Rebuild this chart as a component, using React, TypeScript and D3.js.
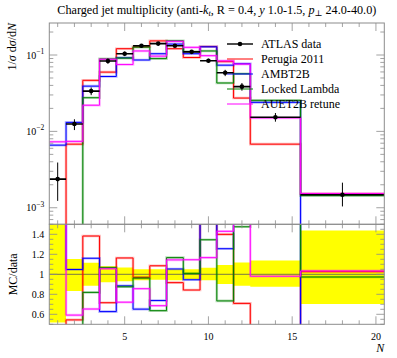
import * as d3 from "d3";

// bin edges in N (last two bins are wide)
const binEdges = [0.5, 1.5, 2.5, 3.5, 4.5, 5.5, 6.5, 7.5, 8.5, 9.5, 10.5, 11.5, 12.5, 15.5, 20.5];

const atlasData = [0.00237, 0.0125, 0.0337, 0.0834, 0.104, 0.132, 0.141, 0.132, 0.11, 0.084, 0.0586, 0.0385, 0.0153, 0.00148];
const atlasErrUp = [0.00154, 0.0019, 0.0039, 0.0067, 0.007, 0.0066, 0.0071, 0.0066, 0.0055, 0.0055, 0.0054, 0.0045, 0.0021, 0.00065];
const atlasErrDown = [0.00114, 0.0021, 0.0039, 0.0067, 0.0073, 0.0079, 0.0078, 0.0079, 0.0055, 0.005, 0.0057, 0.0044, 0.0019, 0.00044];

const perugia2011 = [0, 0.0068, 0.0466, 0.0597, 0.121, 0.128, 0.153, 0.121, 0.0927, 0.129, 0.082, 0.0273, 0.0068, 0.00152];
const ambt2b = [0.0066, 0.0131, 0.0391, 0.0523, 0.092, 0.086, 0.104, 0.139, 0.104, 0.128, 0.0736, 0.077, 0.024, 0];
const lockedLambda = [0, 0, 0.0276, 0.089, 0.091, 0.127, 0.0897, 0.154, 0.111, 0.113, 0.043, 0.0568, 0.0255, 0.00144];
const auet2bRetune = [0.0073, 0.0074, 0.022, 0.088, 0.075, 0.113, 0.0967, 0.151, 0.126, 0.098, 0.0838, 0.076, 0.015, 0.00153];

const seriesNames = ["Perugia 2011", "AMBT2B", "Locked Lambda", "AUET2B retune"];
const seriesValues = [perugia2011, ambt2b, lockedLambda, auet2bRetune];
const seriesColors = ["#ff0000", "#0000ff", "#008000", "#ff00ff"];

const xTickLabels = [5, 10, 15, 20];
const mainDecades = [1e-3, 1e-2, 1e-1];
const ratioTickLabels = [0.6, 0.8, 1, 1.2, 1.4];

const W = 397;
const H = 358;
const left = 49.3;
const right = 384.3;
const mainTop = 23;
const mainBottom = 224.3;
const ratioBottom = 324.3;
const frame = "#8c8c8c";
const font = "'Liberation Serif', 'DejaVu Serif', serif";

const x = d3.scaleLinear().domain([0.5, 20.5]).range([left, right]);
const yMain = d3.scaleLog().domain([6.07e-4, 0.2625]).range([mainBottom, mainTop]);
const yRatio = d3.scaleLinear().domain([0.5, 1.5]).range([ratioBottom, mainBottom]);

function stepPoints(values: number[]): [number, number][] {
  const pts: [number, number][] = [];
  values.forEach((v, i) => {
    pts.push([binEdges[i], v]);
    pts.push([binEdges[i + 1], v]);
  });
  return pts;
}

const mainLine = d3
  .line<[number, number]>()
  .x((d) => x(d[0]))
  .y((d) => yMain(Math.max(d[1], 1e-6)));

const ratioLine = d3
  .line<[number, number]>()
  .x((d) => x(d[0]))
  .y((d) => yRatio(d[1]));

const bandArea = d3
  .area<{ n: number; lo: number; hi: number }>()
  .x((d) => x(d.n))
  .y0((d) => yRatio(d.lo))
  .y1((d) => yRatio(d.hi));

function XTicks({ top, bottom }: { top: number; bottom: number }) {
  const ticks = d3.range(1, 21);
  return (
    <g stroke={frame} strokeWidth={0.8}>
      {ticks.map((t) => {
        const len = t % 5 === 0 ? 8 : 4;
        return (
          <g key={t}>
            <line x1={x(t)} x2={x(t)} y1={top} y2={top + len} />
            <line x1={x(t)} x2={x(t)} y1={bottom} y2={bottom - len} />
          </g>
        );
      })}
    </g>
  );
}

export default function App() {
  const logTicks: { v: number; major: boolean }[] = [];
  [1e-4, 1e-3, 1e-2, 1e-1].forEach((d) => {
    for (let k = 1; k <= 9; k++) {
      const v = k * d;
      const [lo, hi] = yMain.domain();
      if (v >= lo && v <= hi) logTicks.push({ v, major: k === 1 });
    }
  });
  const ratioMinor = d3.range(0.5, 1.5001, 0.05).map((v) => Math.round(v * 100) / 100);

  const bandData: { n: number; lo: number; hi: number }[] = [];
  atlasData.forEach((v, i) => {
    const lo = (v - atlasErrDown[i]) / v;
    const hi = (v + atlasErrUp[i]) / v;
    bandData.push({ n: binEdges[i], lo, hi });
    bandData.push({ n: binEdges[i + 1], lo, hi });
  });

  const legendRows = [44, 59, 74, 89, 104];

  return (
    <svg
      width={W}
      height={H}
      style={{ position: "absolute", left: 0, top: 0, background: "#fff" }}
      fontFamily={font}
    >
      <defs>
        <clipPath id="mainClip">
          <rect x={left} y={mainTop} width={right - left} height={mainBottom - mainTop} />
        </clipPath>
        <clipPath id="ratioClip">
          <rect x={left} y={mainBottom} width={right - left} height={ratioBottom - mainBottom} />
        </clipPath>
      </defs>

      {/* title */}
      <text x={(left + right) / 2} y={14} textAnchor="middle" fontSize={12.2}>
        Charged jet multiplicity (anti-<tspan fontStyle="italic">k</tspan>
        <tspan fontStyle="italic" fontSize={8.5} dy={2}>t</tspan>
        <tspan dy={-2}>, R = 0.4, </tspan>
        <tspan fontStyle="italic">y</tspan> 1.0-1.5, <tspan fontStyle="italic">p</tspan>
        <tspan fontSize={8.5} dy={2}>⊥</tspan>
        <tspan dy={-2}> 24.0-40.0)</tspan>
      </text>

      {/* main panel */}
      <g clipPath="url(#mainClip)">
        {seriesValues.map((vals, s) => (
          <g key={seriesNames[s]} fill="none" stroke={seriesColors[s]}>
            <path d={mainLine(stepPoints(vals)) ?? ""} strokeWidth={2.6} strokeOpacity={0.28} />
            <path d={mainLine(stepPoints(vals)) ?? ""} strokeWidth={1} />
          </g>
        ))}
      </g>

      {/* legend */}
      <g fontSize={12}>
        <line x1={227} x2={253} y1={legendRows[0]} y2={legendRows[0]} stroke="#000" strokeWidth={1.4} />
        <circle cx={240} cy={legendRows[0]} r={2.3} fill="#000" />
        <text x={261} y={legendRows[0] + 4}>ATLAS data</text>
        {seriesNames.map((name, s) => (
          <g key={name}>
            <line
              x1={227}
              x2={253}
              y1={legendRows[s + 1]}
              y2={legendRows[s + 1]}
              stroke={seriesColors[s]}
              strokeWidth={1}
            />
            <text x={261} y={legendRows[s + 1] + 4}>
              {name}
            </text>
          </g>
        ))}
      </g>

      {/* data points */}
      <g clipPath="url(#mainClip)" stroke="#000">
        {atlasData.map((v, i) => {
          const cx = x((binEdges[i] + binEdges[i + 1]) / 2);
          return (
            <g key={i}>
              <line x1={x(binEdges[i])} x2={x(binEdges[i + 1])} y1={yMain(v)} y2={yMain(v)} strokeWidth={1.6} />
              <line x1={cx} x2={cx} y1={yMain(v - atlasErrDown[i])} y2={yMain(v + atlasErrUp[i])} strokeWidth={1} />
              <circle cx={cx} cy={yMain(v)} r={2.3} fill="#000" stroke="none" />
            </g>
          );
        })}
      </g>

      {/* main axes */}
      <rect x={left} y={mainTop} width={right - left} height={mainBottom - mainTop} fill="none" stroke={frame} />
      <XTicks top={mainTop} bottom={mainBottom} />
      <g stroke={frame} strokeWidth={0.8}>
        {logTicks.map((t, i) => {
          const len = t.major ? 8 : 4;
          const y = yMain(t.v);
          return (
            <g key={i}>
              <line x1={left} x2={left + len} y1={y} y2={y} />
              <line x1={right} x2={right - len} y1={y} y2={y} />
            </g>
          );
        })}
      </g>
      <g fontSize={10}>
        {mainDecades.map((d) => (
          <text key={d} x={left - 5} y={yMain(d) + 3.5} textAnchor="end">
            10<tspan fontSize={7.5} dy={-4.5}>−{Math.round(-Math.log10(d))}</tspan>
          </text>
        ))}
      </g>
      <text transform={`translate(16, ${mainTop}) rotate(-90)`} textAnchor="end" fontSize={12}>
        1<tspan>/</tspan><tspan fontStyle="italic">σ</tspan> d<tspan fontStyle="italic">σ</tspan>/d<tspan fontStyle="italic">N</tspan>
      </text>

      {/* ratio panel */}
      <g clipPath="url(#ratioClip)">
        <path d={bandArea(bandData) ?? ""} fill="#ffff00" />
        <line x1={left} x2={right} y1={yRatio(1)} y2={yRatio(1)} stroke="#555" strokeWidth={0.8} />
        {seriesValues.map((vals, s) => {
          const ratios = vals.map((v, i) => v / atlasData[i]);
          return (
            <g key={seriesNames[s]} fill="none" stroke={seriesColors[s]}>
              <path d={ratioLine(stepPoints(ratios)) ?? ""} strokeWidth={2.6} strokeOpacity={0.28} />
              <path d={ratioLine(stepPoints(ratios)) ?? ""} strokeWidth={1} />
            </g>
          );
        })}
      </g>
      <rect x={left} y={mainBottom} width={right - left} height={ratioBottom - mainBottom} fill="none" stroke={frame} />
      <XTicks top={mainBottom} bottom={ratioBottom} />
      <g stroke={frame} strokeWidth={0.8}>
        {ratioMinor.map((v) => {
          const major = Math.abs((v * 10) % 2) < 1e-6;
          const len = major ? 8 : 4;
          return (
            <g key={v}>
              <line x1={left} x2={left + len} y1={yRatio(v)} y2={yRatio(v)} />
              <line x1={right} x2={right - len} y1={yRatio(v)} y2={yRatio(v)} />
            </g>
          );
        })}
      </g>
      <g fontSize={10}>
        {ratioTickLabels.map((t) => (
          <text key={t} x={left - 5} y={yRatio(t) + 3.5} textAnchor="end">
            {t}
          </text>
        ))}
        {xTickLabels.map((t) => (
          <text key={t} x={x(t)} y={340} textAnchor="middle">
            {t}
          </text>
        ))}
      </g>
      <text transform={`translate(17, ${yRatio(1)}) rotate(-90)`} textAnchor="middle" fontSize={12}>
        MC/data
      </text>
      <text x={right} y={352} textAnchor="end" fontSize={12} fontStyle="italic">
        N
      </text>
    </svg>
  );
}
